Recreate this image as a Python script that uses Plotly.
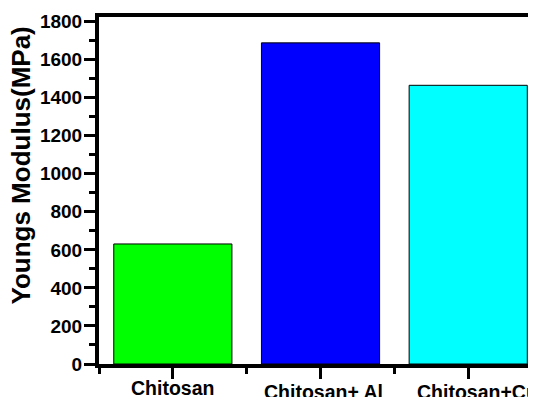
import plotly.graph_objects as go

categories = ["Chitosan", "Chitosan+ Al", "Chitosan+Cu"]
youngs_modulus = [631, 1688, 1465]
bar_colors = ["#00FF00", "#0000FF", "#00FFFF"]
y_tick_vals = [0, 200, 400, 600, 800, 1000, 1200, 1400, 1600, 1800]
label_drop = [0, 4, 4]   # small vertical stagger of category labels seen in the reference
label_nudge = [0, 3, 9]  # small horizontal offsets of category labels seen in the reference

x_pos = list(range(len(categories)))

fig = go.Figure(
    go.Bar(
        x=x_pos,
        y=youngs_modulus,
        width=0.8,
        marker=dict(color=bar_colors, line=dict(color="black", width=1)),
    )
)

font_family = "Liberation Sans, Arial, sans-serif"

# page has an 8px body margin: figure is placed at (8, 8) in the window
fig.update_layout(
    width=528,
    height=389,
    margin=dict(l=91, r=0, t=9, b=33),
    plot_bgcolor="white",
    paper_bgcolor="white",
    showlegend=False,
    font=dict(family=font_family, color="black"),
)

fig.update_xaxes(
    range=[-0.5, 2.459],
    automargin=False,
    tickmode="array",
    tickvals=x_pos,
    showticklabels=False,
    showline=True,
    linecolor="black",
    linewidth=4,
    mirror=True,
    ticks="outside",
    ticklen=11,
    tickwidth=3,
    tickcolor="black",
    showgrid=False,
    zeroline=False,
    minor=dict(tick0=0.5, dtick=1, ticks="outside", ticklen=6, tickwidth=3, tickcolor="black", showgrid=False),
)

fig.update_yaxes(
    range=[0, 1824],
    automargin=False,
    tickmode="array",
    tickvals=y_tick_vals,
    tickfont=dict(size=19, family=font_family, weight="bold"),
    ticklabelstandoff=-2,
    showline=True,
    linecolor="black",
    linewidth=4,
    mirror=False,
    ticks="outside",
    ticklen=11,
    tickwidth=3,
    tickcolor="black",
    showgrid=False,
    zeroline=False,
    minor=dict(dtick=100, tick0=0, ticks="outside", ticklen=6, tickwidth=3, tickcolor="black", showgrid=False),
)

for xi, name, drop, nudge in zip(x_pos, categories, label_drop, label_nudge):
    fig.add_annotation(
        x=xi, xref="x",
        y=0, yref="paper",
        yshift=-11 - drop,
        xshift=nudge,
        text=name,
        showarrow=False,
        xanchor="center", yanchor="top",
        font=dict(size=19.5, family=font_family, weight="bold", color="black"),
    )

fig.add_annotation(
    x=-0.1785, xref="paper",
    y=0.572, yref="paper",
    text="Youngs Modulus(MPa)",
    textangle=-90,
    showarrow=False,
    xanchor="center", yanchor="middle",
    font=dict(size=26, family=font_family, weight="bold", color="black"),
)

fig.write_html("out.html")
